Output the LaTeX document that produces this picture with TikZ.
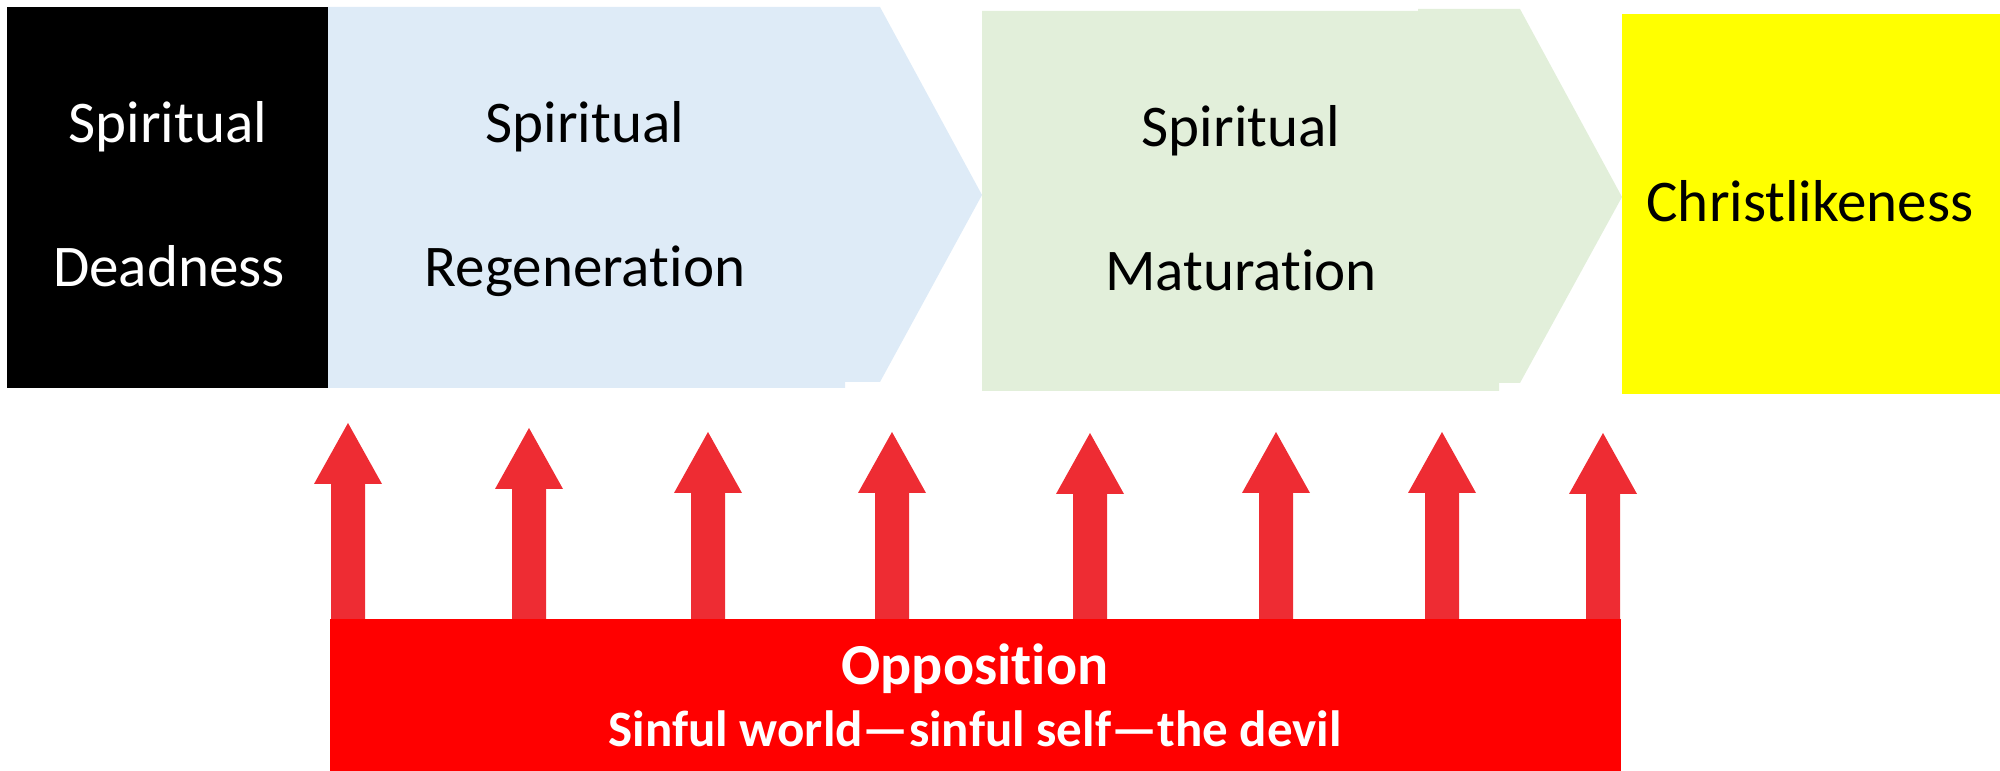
\documentclass[tikz,border=0pt]{standalone}
\usepackage{fontspec}
\setmainfont{Carlito}[Ligatures={TeX,NoCommon}]
\definecolor{regblue}{HTML}{DEEBF7}
\definecolor{matgreen}{HTML}{E2EFDA}
\definecolor{goalyellow}{HTML}{FFFF00}
\definecolor{oppred}{HTML}{FF0000}
\definecolor{arrowred}{HTML}{EE2C33}
\newcommand{\tI}{t\kern0pt i}% keep t and i apart
\begin{document}
\begin{tikzpicture}[x=0.01cm,y=-0.01cm,line cap=round,
	stagetext/.style={anchor=base,font=\fontsize{16.8}{20}\selectfont},
	opptext/.style={anchor=base,text=white,font=\bfseries\fontsize{16.5}{20}\selectfont}]
	\useasboundingbox (0,0) rectangle (2000,771);
	% stages
	\fill[black] (7,7) rectangle (328,388);
	\fill[regblue] (328,7)--(880,7)--(982,195)--(880,382)--(845,382)--(845,388)--(328,388)--cycle;
	\fill[matgreen] (982,11)--(1418,11)--(1418,9)--(1520,9)--(1622,197)--(1520,383)--(1499,383)--(1499,391)--(982,391)--cycle;
	\fill[goalyellow] (1622,14) rectangle (2000,394);
	\node[stagetext,text=white] (dead1) at (168,143) {Spiritual};
	\node[stagetext,text=white] (dead2) at (169,287) {Deadness};
	\node[stagetext] (regen1) at (585,143) {Spiritual};
	\node[stagetext] (regen2) at (585,287) {Regenera\tI on};
	\node[stagetext] (mat1) at (1241,147) {Spiritual};
	\node[stagetext] (mat2) at (1241,291) {Matura\tI on};
	\node[stagetext] (christ) at (1810,222) {Christlikeness};
	% opposition arrows
	\foreach \x/\t in {348/423,529/428,708/432,892/432,1090/433,1276/432,1442/432,1603/433}
		\fill[arrowred] (\x-17,640)--(\x-17,\t+61)--(\x-34,\t+61)--(\x,\t)--(\x+34,\t+61)--(\x+17,\t+61)--(\x+17,640)--cycle;
	\fill[oppred] (330,619) rectangle (1621,771);
	\node[opptext] (opp) at (975,685) {Opposi\tI on};
	\node[opptext,font=\bfseries\fontsize{14.5}{18}\selectfont] (enemies) at (975,747) {Sinful world---sinful self---the devil};
\end{tikzpicture}
\end{document}
